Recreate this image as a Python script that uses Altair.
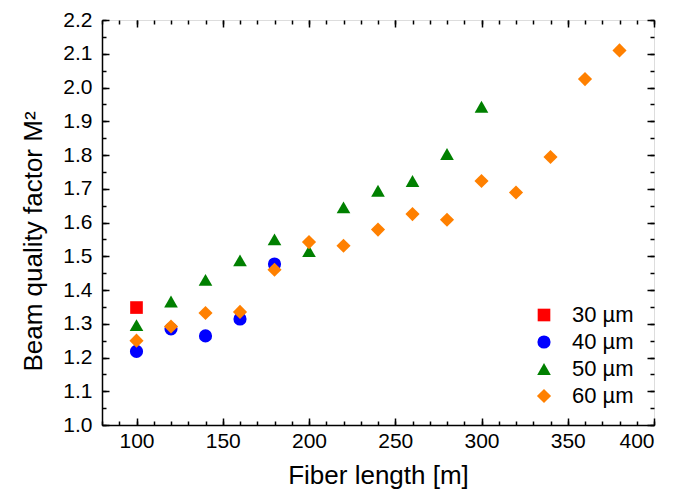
import altair as alt
import pandas as pd

# ---- data ----
series_names = ["30 µm", "40 µm", "50 µm", "60 µm"]
series_colors = ["#FF0000", "#0000FF", "#008000", "#FF8000"]
series_shapes = ["square", "circle", "triangle-up", "diamond"]

len_30 = [100]
m2_30 = [1.348]

len_40 = [100, 120, 140, 160, 180]
m2_40 = [1.218, 1.285, 1.264, 1.314, 1.477]

len_50 = [100, 120, 140, 160, 180, 200, 220, 240, 260, 280, 300]
m2_50 = [1.296, 1.366, 1.430, 1.488, 1.550, 1.515, 1.645, 1.694, 1.723, 1.803, 1.943]

len_60 = [100, 120, 140, 160, 180, 200, 220, 240, 260, 280, 300, 320, 340, 360, 380]
m2_60 = [1.250, 1.292, 1.332, 1.335, 1.460, 1.542, 1.531, 1.579, 1.625, 1.608, 1.723, 1.689, 1.794, 2.025, 2.110]

x_major = [100, 150, 200, 250, 300, 350, 400]
x_minor = list(range(80, 401, 10))
y_major = [1.0, 1.1, 1.2, 1.3, 1.4, 1.5, 1.6, 1.7, 1.8, 1.9, 2.0, 2.1, 2.2]
y_minor = [round(1.0 + 0.05 * i, 2) for i in range(25)]
x_domain = [80, 400]
y_domain = [1.0, 2.2]

rows = []
for name, xs_, ys_ in zip(series_names, [len_30, len_40, len_50, len_60], [m2_30, m2_40, m2_50, m2_60]):
    for a, b in zip(xs_, ys_):
        rows.append({"length": a, "m2": b, "size": name})
df = pd.DataFrame(rows)

W, H = 552, 405
FONT = "Liberation Sans"

xs = alt.Scale(domain=x_domain, nice=False, zero=False)
ys = alt.Scale(domain=y_domain, nice=False, zero=False)

legend = alt.Legend(
    orient="none", legendX=431, legendY=284, title=None,
    labelFontSize=22, labelFont=FONT, labelColor="black", labelOffset=17,
    symbolSize=170, symbolOpacity=1, symbolStrokeWidth=0, rowPadding=5, padding=0,
)

main = alt.Chart(df).mark_point(filled=True, opacity=1, strokeWidth=0).encode(
    x=alt.X("length:Q", scale=xs, axis=alt.Axis(
        orient="bottom", values=x_major, ticks=False, tickSize=0,
        labelFontSize=21, labelFont=FONT, labelColor="black", labelPadding=5,
        title="Fiber length [m]", titleFontSize=26, titleFont=FONT,
        titleFontWeight="normal", titleColor="black",
        titleBaseline="alphabetic", titleY=58,
        domain=True, domainColor="black", domainWidth=1.5, grid=False)),
    y=alt.Y("m2:Q", scale=ys, axis=alt.Axis(
        orient="left", values=y_major, ticks=False, tickSize=0, format=".1f",
        labelFontSize=21, labelFont=FONT, labelColor="black", labelPadding=10,
        title="Beam quality factor M²", titleFontSize=26, titleFont=FONT,
        titleFontWeight="normal", titleColor="black",
        titleBaseline="alphabetic", titleX=-61, titleY=221,
        domain=True, domainColor="black", domainWidth=1.5, grid=False)),
    color=alt.Color("size:N", scale=alt.Scale(domain=series_names, range=series_colors), legend=legend),
    shape=alt.Shape("size:N", scale=alt.Scale(domain=series_names, range=series_shapes), legend=legend),
    size=alt.Size("size:N", scale=alt.Scale(domain=series_names, range=[160, 200, 260, 280]), legend=None),
)


def tick_axis(orient, offset, values, size):
    return alt.Axis(orient=orient, offset=offset, values=values, tickSize=size,
                    tickWidth=1.5, tickColor="black", labels=False, domain=False,
                    grid=False, title=None)


def tick_layer(xo, xoff, xv, yo, yoff, yv, size):
    return alt.Chart(df).mark_point(opacity=0).encode(
        x=alt.X("length:Q", scale=xs, axis=tick_axis(xo, xoff, xv, size)),
        y=alt.Y("m2:Q", scale=ys, axis=tick_axis(yo, yoff, yv, size)),
    )


layers = [
    tick_layer("top", -H, x_major, "right", -W, y_major, 7),
    tick_layer("top", -H, x_minor, "right", -W, y_minor, 4),
    tick_layer("bottom", -H, x_major, "left", -W, y_major, 7),
    tick_layer("bottom", -H, x_minor, "left", -W, y_minor, 4),
    main,
]

chart = alt.layer(*layers).resolve_axis(x="independent", y="independent").properties(
    width=W, height=H,
    autosize=alt.AutoSizeParams(type="none"),
    padding={"left": 94, "top": 12, "right": 20, "bottom": 65},
).configure_view(stroke="black", strokeWidth=1.5).configure(font=FONT)

chart.save("out.html", embed_options={"renderer": "svg", "actions": False})
